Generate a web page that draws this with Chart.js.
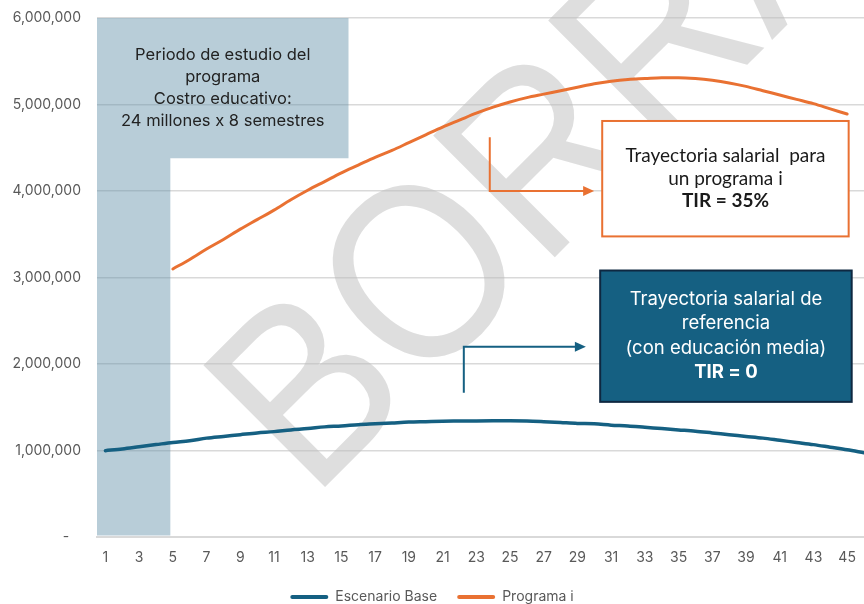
<!DOCTYPE html>
<html lang="es">

<head>
    <meta charset="UTF-8" />
    <title>Trayectoria salarial</title>
    <script src="https://cdn.jsdelivr.net/npm/chart.js"></script>
    <style>
        body {
            margin: 0;
            background: #fff;
            overflow: hidden;
        }
    </style>
</head>

<body>
    <canvas id="salaryChart" width="864" height="604"></canvas>

    <script>
        // periods (semesters) and series
        const periods = [1, 2, 3, 4, 5, 6, 7, 8, 9, 10, 11, 12, 13, 14, 15, 16, 17, 18, 19, 20, 21, 22, 23,
            24, 25, 26, 27, 28, 29, 30, 31, 32, 33, 34, 35, 36, 37, 38, 39, 40, 41, 42, 43, 44, 45, 46];
        const xTicks = [1, 3, 5, 7, 9, 11, 13, 15, 17, 19, 21, 23, 25, 27, 29, 31, 33, 35, 37, 39, 41, 43, 45];
        const yTicks = [0, 1000000, 2000000, 3000000, 4000000, 5000000, 6000000];

        const escenarioBase = [1000000, 1020000, 1045000, 1070000, 1095000, 1115000, 1145000, 1165000, 1185000,
            1205000, 1220000, 1240000, 1255000, 1275000, 1285000, 1300000, 1310000, 1320000, 1330000, 1335000,
            1340000, 1342000, 1344000, 1345000, 1345000, 1343000, 1335000, 1325000, 1315000, 1310000, 1295000,
            1285000, 1270000, 1255000, 1240000, 1225000, 1205000, 1185000, 1165000, 1145000, 1120000, 1095000,
            1070000, 1040000, 1010000, 975000];
        const programaI = [null, null, null, null, 3100000, 3210000, 3330000, 3440000, 3560000, 3670000, 3780000,
            3900000, 4010000, 4110000, 4210000, 4300000, 4390000, 4470000, 4560000, 4650000, 4740000, 4820000,
            4900000, 4970000, 5030000, 5080000, 5120000, 5160000, 5200000, 5240000, 5270000, 5290000, 5300000,
            5310000, 5310000, 5300000, 5280000, 5250000, 5210000, 5160000, 5110000, 5060000, 5010000, 4950000,
            4890000, null];

        const BLUE = '#156082';
        const ORANGE = '#E97132';
        const GREY_TEXT = '#595959';
        const FONT = 'Inter';

        // overlays drawn in data units
        const studyPeriod = { x0: 0.5, x1: 4.85, y0: 20000, y1: 6000000, topX1: 15.42, topY0: 4380000 };
        const studyText = ['Periodo de estudio del', 'programa', 'Costro educativo:', '24 millones x 8 semestres'];
        const orangeBox = { x0: 30.47, x1: 45.09, y0: 3476000, y1: 4810000 };
        const orangeText = ['Trayectoria salarial  para', 'un programa i', 'TIR = 35%'];
        const orangeArrow = { x: 23.8, yStart: 4623000, yEnd: 4000000, xEnd: 29.99 };
        const blueBox = { x0: 30.35, x1: 45.27, y0: 1564000, y1: 3082000 };
        const blueText = ['Trayectoria salarial de', 'referencia', '(con educación media)', 'TIR = 0'];
        const blueArrow = { x: 22.26, yStart: 1669000, yEnd: 2202000, xEnd: 29.5 };

        function drawArrow(ctx, sx, sy, ex, ey, color) {
            ctx.save();
            ctx.strokeStyle = color;
            ctx.fillStyle = color;
            ctx.lineWidth = 2;
            ctx.beginPath();
            ctx.moveTo(sx, sy);
            ctx.lineTo(sx, ey);
            ctx.lineTo(ex - 8, ey);
            ctx.stroke();
            ctx.beginPath();
            ctx.moveTo(ex, ey);
            ctx.lineTo(ex - 11, ey - 5);
            ctx.lineTo(ex - 11, ey + 5);
            ctx.closePath();
            ctx.fill();
            ctx.restore();
        }

        function drawLines(ctx, lines, cx, cy, lh, boldLast, font, size, color) {
            ctx.save();
            ctx.fillStyle = color;
            ctx.textAlign = 'center';
            ctx.textBaseline = 'middle';
            const top = cy - (lines.length - 1) * lh / 2;
            lines.forEach((t, i) => {
                const bold = boldLast && i === lines.length - 1;
                ctx.font = (bold ? 'bold ' : '') + size + 'px "' + font + '"';
                ctx.fillText(t, cx, top + i * lh);
            });
            ctx.restore();
        }

        const overlayPlugin = {
            id: 'overlays',
            beforeDatasetsDraw(chart) {
                const { ctx, scales: { x, y } } = chart;
                // study period shape
                ctx.save();
                ctx.fillStyle = 'rgba(98,144,169,0.45)';
                ctx.beginPath();
                ctx.moveTo(x.getPixelForValue(studyPeriod.x0), y.getPixelForValue(studyPeriod.y0));
                ctx.lineTo(x.getPixelForValue(studyPeriod.x0), y.getPixelForValue(studyPeriod.y1));
                ctx.lineTo(x.getPixelForValue(studyPeriod.topX1), y.getPixelForValue(studyPeriod.y1));
                ctx.lineTo(x.getPixelForValue(studyPeriod.topX1), y.getPixelForValue(studyPeriod.topY0));
                ctx.lineTo(x.getPixelForValue(studyPeriod.x1), y.getPixelForValue(studyPeriod.topY0));
                ctx.lineTo(x.getPixelForValue(studyPeriod.x1), y.getPixelForValue(studyPeriod.y0));
                ctx.closePath();
                ctx.fill();
                ctx.restore();

                // watermark
                ctx.save();
                ctx.translate(312, 500);
                ctx.rotate(-Math.PI / 4);
                ctx.scale(0.9, 1);
                ctx.font = '250px "Liberation Sans"';
                ctx.fillStyle = 'rgba(190,190,190,0.5)';
                ctx.textBaseline = 'alphabetic';
                ctx.fillText('BORRADOR', 0, 0);
                ctx.restore();
            },
            afterDraw(chart) {
                const { ctx, scales: { x, y } } = chart;

                // text inside study period
                const sx0 = x.getPixelForValue(studyPeriod.x0), sx1 = x.getPixelForValue(studyPeriod.topX1);
                const sy0 = y.getPixelForValue(studyPeriod.y1), sy1 = y.getPixelForValue(studyPeriod.topY0);
                drawLines(ctx, studyText, (sx0 + sx1) / 2, (sy0 + sy1) / 2, 22, false, FONT, 16.5, '#222');

                // orange box
                let bx0 = x.getPixelForValue(orangeBox.x0), bx1 = x.getPixelForValue(orangeBox.x1);
                let by0 = y.getPixelForValue(orangeBox.y1), by1 = y.getPixelForValue(orangeBox.y0);
                ctx.save();
                ctx.fillStyle = '#fff';
                ctx.fillRect(bx0, by0, bx1 - bx0, by1 - by0);
                ctx.strokeStyle = ORANGE;
                ctx.lineWidth = 2;
                ctx.strokeRect(bx0, by0, bx1 - bx0, by1 - by0);
                ctx.restore();
                drawLines(ctx, orangeText, (bx0 + bx1) / 2, (by0 + by1) / 2, 22.5, true, 'Lato', 19, '#1a1a1a');

                drawArrow(ctx, x.getPixelForValue(orangeArrow.x), y.getPixelForValue(orangeArrow.yStart),
                    x.getPixelForValue(orangeArrow.xEnd), y.getPixelForValue(orangeArrow.yEnd), ORANGE);

                // blue box
                bx0 = x.getPixelForValue(blueBox.x0); bx1 = x.getPixelForValue(blueBox.x1);
                by0 = y.getPixelForValue(blueBox.y1); by1 = y.getPixelForValue(blueBox.y0);
                ctx.save();
                ctx.fillStyle = BLUE;
                ctx.fillRect(bx0, by0, bx1 - bx0, by1 - by0);
                ctx.strokeStyle = '#0E2841';
                ctx.lineWidth = 2;
                ctx.strokeRect(bx0, by0, bx1 - bx0, by1 - by0);
                ctx.restore();
                drawLines(ctx, blueText, (bx0 + bx1) / 2, (by0 + by1) / 2, 24.5, true, FONT, 18.5, '#fff');

                drawArrow(ctx, x.getPixelForValue(blueArrow.x), y.getPixelForValue(blueArrow.yStart),
                    x.getPixelForValue(blueArrow.xEnd), y.getPixelForValue(blueArrow.yEnd), BLUE);
            }
        };

        new Chart(document.getElementById('salaryChart'), {
            type: 'line',
            data: {
                datasets: [
                    {
                        label: 'Escenario Base',
                        data: periods.map((p, i) => ({ x: p, y: escenarioBase[i] })),
                        borderColor: BLUE,
                        backgroundColor: BLUE,
                        borderWidth: 3.5,
                        pointRadius: 0,
                        tension: 0.4,
                        cubicInterpolationMode: 'monotone',
                        borderCapStyle: 'round'
                    },
                    {
                        label: 'Programa i',
                        data: periods.map((p, i) => ({ x: p, y: programaI[i] })),
                        borderColor: ORANGE,
                        backgroundColor: ORANGE,
                        borderWidth: 3,
                        pointRadius: 0,
                        tension: 0.4,
                        cubicInterpolationMode: 'monotone',
                        borderCapStyle: 'round'
                    }
                ]
            },
            options: {
                responsive: false,
                animation: false,
                layout: {
                    padding: { top: 18, right: 0, left: 0, bottom: -10 }
                },
                scales: {
                    x: {
                        type: 'linear',
                        min: 0.5,
                        max: 46,
                        afterBuildTicks: (scale) => {
                            scale.ticks = xTicks.map(v => ({ value: v }));
                        },
                        ticks: {
                            color: GREY_TEXT,
                            font: { family: FONT, size: 14 },
                            padding: 4,
                            maxRotation: 0,
                            autoSkip: false
                        },
                        grid: { display: false },
                        border: { display: true, color: '#D9D9D9', width: 2 }
                    },
                    y: {
                        min: 0,
                        max: 6000000,
                        afterBuildTicks: (scale) => {
                            scale.ticks = yTicks.map(v => ({ value: v }));
                        },
                        afterFit: (scale) => {
                            scale.width = 97;
                            scale.paddingTop = 0;
                            scale.paddingBottom = 0;
                        },
                        ticks: {
                            color: GREY_TEXT,
                            font: { family: FONT, size: 14 },
                            padding: 16,
                            callback: (v) => v === 0 ? '-   ' : v.toLocaleString('en-US')
                        },
                        grid: { color: '#D9D9D9', lineWidth: 1.5, drawTicks: false },
                        border: { display: false }
                    }
                },
                plugins: {
                    legend: {
                        position: 'bottom',
                        labels: {
                            color: GREY_TEXT,
                            font: { family: FONT, size: 14 },
                            boxWidth: 38,
                            boxHeight: 4,
                            padding: 20,
                            generateLabels: (chart) => Chart.defaults.plugins.legend.labels.generateLabels(chart)
                                .map(l => ({ ...l, lineWidth: 0, borderRadius: 2 }))
                        }
                    },
                    tooltip: { enabled: false }
                }
            },
            plugins: [overlayPlugin]
        });
    </script>
</body>

</html>
